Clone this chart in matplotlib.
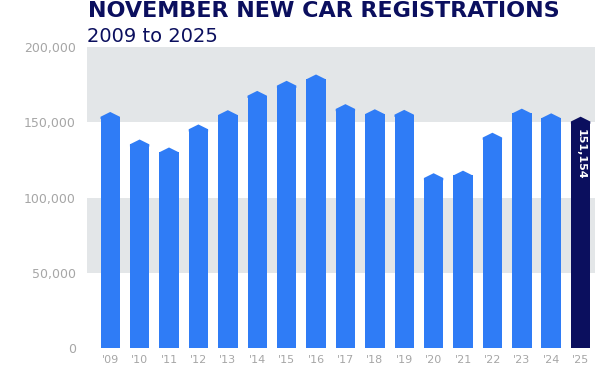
import matplotlib
matplotlib.use("Agg")
import matplotlib.pyplot as plt
import numpy as np

years = ["'09", "'10", "'11", "'12", "'13", "'14", "'15", "'16", "'17",
         "'18", "'19", "'20", "'21", "'22", "'23", "'24", "'25"]
values = [154300, 136000, 130700, 146000, 155500, 168300, 175000, 179200, 159500,
          156100, 155700, 113600, 115300, 140500, 156500, 153400, 151154]
ytick_vals = [0, 50000, 100000, 150000, 200000]
ytick_labels = ["0", "50,000", "100,000", "150,000", "200,000"]
title = "NOVEMBER NEW CAR REGISTRATIONS"
subtitle = "2009 to 2025"
highlight_label = "151,154"

BLUE = "#2f7cf6"
NAVY = "#0b0f5e"
BAND = "#e3e6e8"
GREY = "#a6a6a6"

fig = plt.figure(figsize=(5.95, 3.74), dpi=100)
ax = fig.add_axes([87/595, 1-348/374, 1-87/595, (348-47)/374])
ax.set_xlim(-0.79, 16.49)
ax.set_ylim(0, 200000)

ax.axhspan(150000, 200000, color=BAND, lw=0, zorder=0)
ax.axhspan(50000, 100000, color=BAND, lw=0, zorder=0)

x = np.arange(len(values))
w = 0.66
cap = 3200
shoulder_off = 660
colors = [BLUE] * (len(values) - 1) + [NAVY]
heights = [v - shoulder_off for v in values]
bars = ax.bar(x, heights, width=w, color=colors, lw=0, zorder=2)
for b, c in zip(bars, colors):
    x0 = b.get_x(); bw = b.get_width(); h = b.get_height()
    ax.fill([x0, x0 + bw, x0 + bw, x0 + bw/2, x0], [h - 1500, h - 1500, h, h + cap, h],
            color=c, lw=0, zorder=2)

ax.text(x[-1] + 0.02, values[-1] - 5500, highlight_label, rotation=-90, color="white",
        fontsize=8, fontweight="bold", ha="center", va="top", zorder=3,
        family="DejaVu Sans")

ax.set_xticks(x)
ax.set_xticklabels(years, color=GREY, fontsize=8)
ax.set_yticks(ytick_vals)
ax.set_yticklabels(ytick_labels, color=GREY, fontsize=9)
ax.tick_params(length=0, pad=5)
ax.tick_params(axis="y", pad=8)
for s in ax.spines.values():
    s.set_visible(False)

fig.text(88/595, 1-1/374, title, color=NAVY, fontsize=16, fontweight="heavy",
         ha="left", va="top", family="DejaVu Sans")
fig.text(87/595, 1-27/374, subtitle, color=NAVY, fontsize=14,
         ha="left", va="top", family="DejaVu Sans")

fig.savefig("out.png", dpi=100)
